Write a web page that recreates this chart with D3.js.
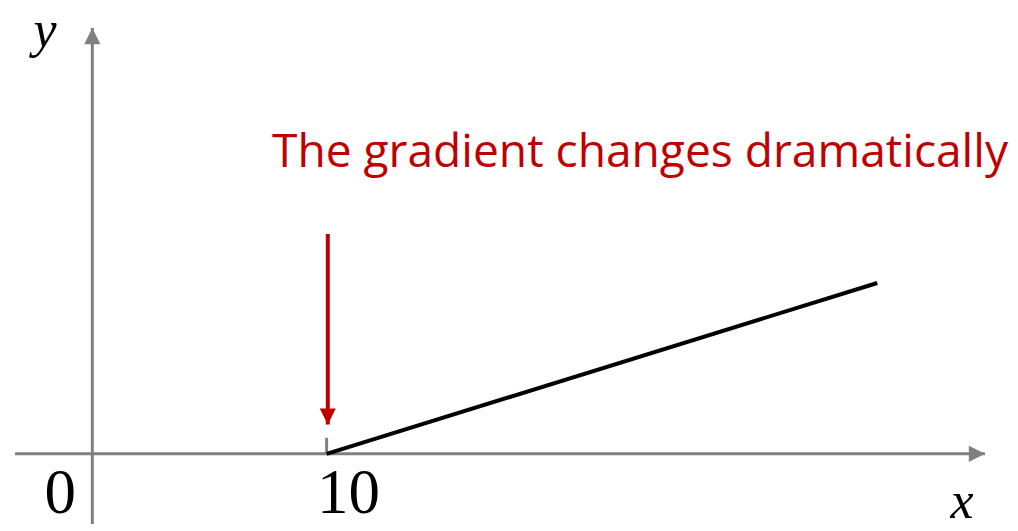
<!DOCTYPE html>
<html>
<head>
<meta charset="utf-8">
<script src="https://cdn.jsdelivr.net/npm/d3@7"></script>
<style>
  html, body { margin: 0; padding: 0; background: #fff; }
</style>
</head>
<body>
<div id="chart"></div>
<script>
// data
const xDomain = [-3.3, 38.1];
const yDomain = [-3.0, 18.2];
const lineX = [10, 33.5];
const lineY = [0, 7.3];
const tickValues = [0, 10];
const annotation = "The gradient changes dramatically";
const arrowX = 10.05;
const arrowY = [9.4, 1.25];

const width = 1018, height = 531;

const svg = d3.select("#chart").append("svg")
  .attr("width", width)
  .attr("height", height);

const x = d3.scaleLinear().domain(xDomain).range([15, 985]);
const y = d3.scaleLinear().domain(yDomain).range([524, 28]);

const defs = svg.append("defs");
defs.append("marker")
  .attr("id", "grayHead")
  .attr("viewBox", "0 0 10 10")
  .attr("refX", 10).attr("refY", 5)
  .attr("markerWidth", 6).attr("markerHeight", 5.4)
  .attr("markerUnits", "strokeWidth")
  .attr("orient", "auto")
  .append("path").attr("d", "M0,0 L10,5 L0,10 Z").attr("fill", "#808080");

defs.append("marker")
  .attr("id", "redHead")
  .attr("viewBox", "0 0 10 10")
  .attr("refX", 10).attr("refY", 5)
  .attr("markerWidth", 4.4).attr("markerHeight", 4)
  .attr("markerUnits", "strokeWidth")
  .attr("orient", "auto")
  .append("path").attr("d", "M0,0 L10,5 L0,10 Z").attr("fill", "#C00000");

// axes
svg.append("line")
  .attr("x1", x(xDomain[0])).attr("x2", x(xDomain[1]))
  .attr("y1", y(0)).attr("y2", y(0))
  .attr("stroke", "#808080").attr("stroke-width", 3)
  .attr("marker-end", "url(#grayHead)");

svg.append("line")
  .attr("x1", x(0)).attr("x2", x(0))
  .attr("y1", y(yDomain[0])).attr("y2", y(yDomain[1]))
  .attr("stroke", "#808080").attr("stroke-width", 3)
  .attr("marker-end", "url(#grayHead)");

// tick at 10
svg.append("line")
  .attr("x1", x(10)).attr("x2", x(10))
  .attr("y1", y(0)).attr("y2", y(0) - 16)
  .attr("stroke", "#808080").attr("stroke-width", 3);

// tick labels
svg.selectAll("text.tick")
  .data(tickValues)
  .enter().append("text")
  .attr("class", "tick")
  .attr("x", d => d === 0 ? x(0) - 32 : x(d) + 22)
  .attr("y", y(0) + 59)
  .attr("text-anchor", "middle")
  .attr("font-family", "'Liberation Serif', serif")
  .attr("font-size", 63)
  .attr("fill", "#000")
  .text(d => d);

// axis titles
svg.append("text")
  .attr("x", 45).attr("y", 47)
  .attr("text-anchor", "middle")
  .attr("font-family", "'Liberation Serif', serif")
  .attr("font-style", "italic")
  .attr("font-size", 52)
  .text("y");

svg.append("text")
  .attr("x", 962).attr("y", 518)
  .attr("text-anchor", "middle")
  .attr("font-family", "'Liberation Serif', serif")
  .attr("font-style", "italic")
  .attr("font-size", 52)
  .text("x");

// the line
const line = d3.line().x(d => x(d[0])).y(d => y(d[1]));
svg.append("path")
  .datum(d3.zip(lineX, lineY))
  .attr("d", line)
  .attr("fill", "none")
  .attr("stroke", "#000")
  .attr("stroke-width", 4);

// red arrow
svg.append("line")
  .attr("x1", x(arrowX)).attr("x2", x(arrowX))
  .attr("y1", y(arrowY[0])).attr("y2", y(arrowY[1]))
  .attr("stroke", "#C00000").attr("stroke-width", 4)
  .attr("marker-end", "url(#redHead)");

// annotation
svg.append("text")
  .attr("x", 272).attr("y", 167)
  .attr("font-family", "'Open Sans', 'Noto Sans', sans-serif")
  .attr("font-size", 46)
  .attr("fill", "#C00000")
  .attr("textLength", 736)
  .attr("lengthAdjust", "spacingAndGlyphs")
  .text(annotation);
</script>
</body>
</html>
